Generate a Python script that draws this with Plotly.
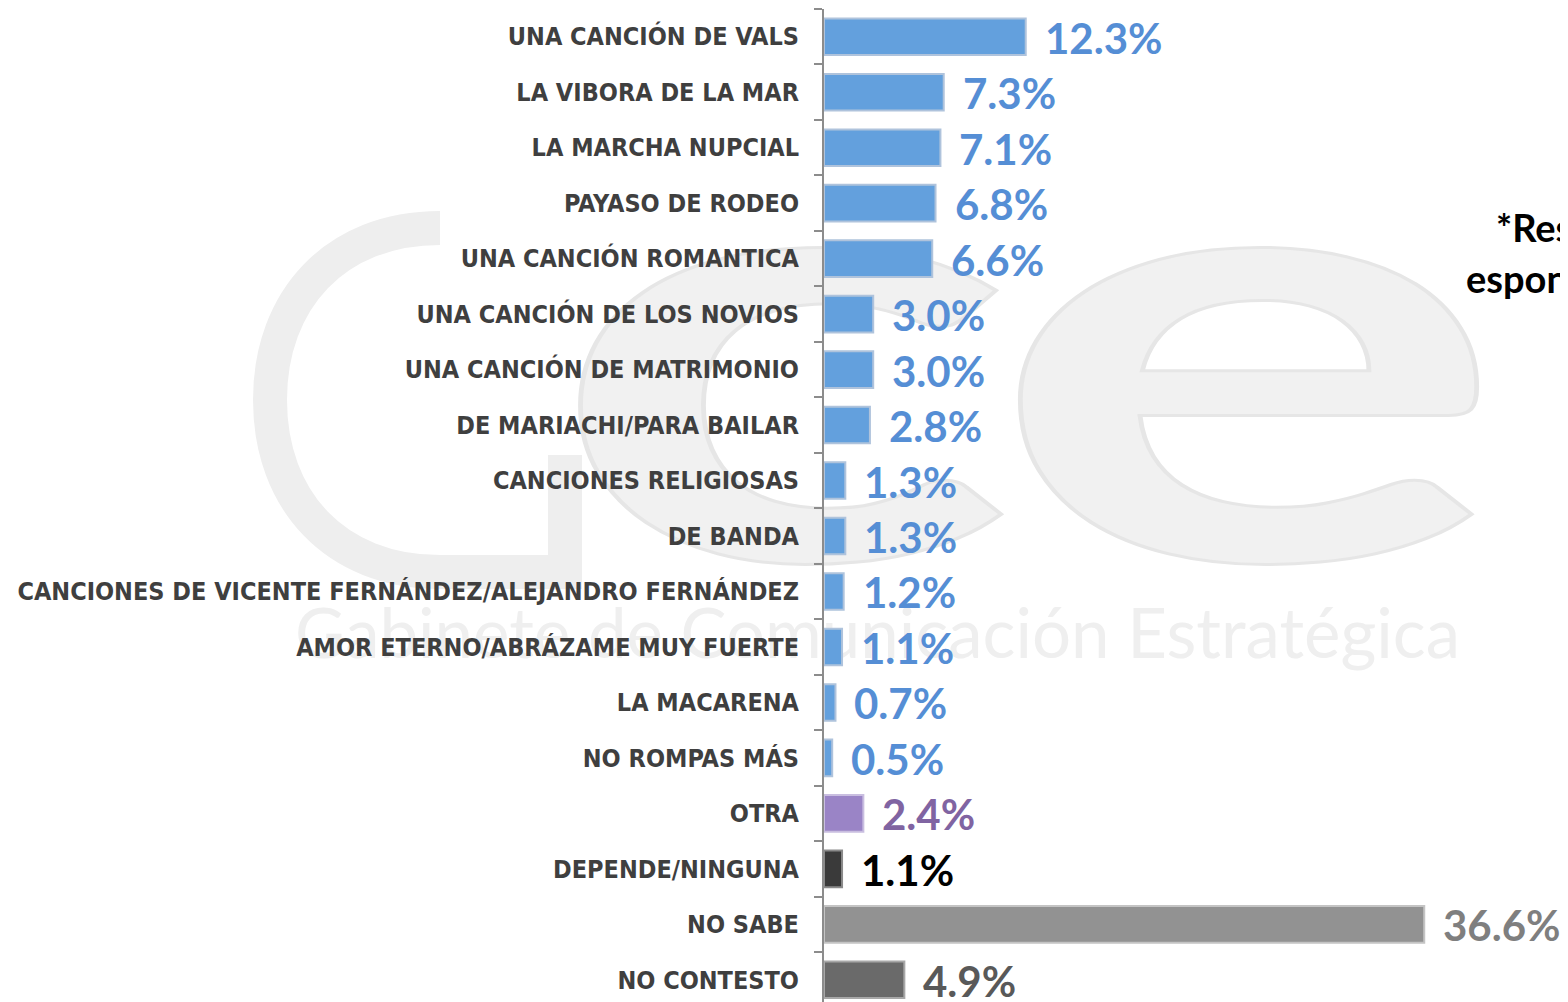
"""
Canciones para la boda - horizontal bar chart (Plotly).
"""
import base64
import plotly.graph_objects as go

# ---------------------------------------------------------------------------
# Data
# ---------------------------------------------------------------------------

categories = [
    'UNA CANCIÓN DE VALS',
    'LA VIBORA DE LA MAR',
    'LA MARCHA NUPCIAL',
    'PAYASO DE RODEO',
    'UNA CANCIÓN ROMANTICA',
    'UNA CANCIÓN DE LOS NOVIOS',
    'UNA CANCIÓN DE MATRIMONIO',
    'DE MARIACHI/PARA BAILAR',
    'CANCIONES RELIGIOSAS',
    'DE BANDA',
    'CANCIONES DE VICENTE FERNÁNDEZ/ALEJANDRO FERNÁNDEZ',
    'AMOR ETERNO/ABRÁZAME MUY FUERTE',
    'LA MACARENA',
    'NO ROMPAS MÁS',
    'OTRA',
    'DEPENDE/NINGUNA',
    'NO SABE',
    'NO CONTESTO',
]
values = [12.3, 7.3, 7.1, 6.8, 6.6, 3.0, 3.0, 2.8, 1.3, 1.3, 1.2, 1.1, 0.7, 0.5,
          2.4, 1.1, 36.6, 4.9]

# bar fill / outline / label colour per group
BLUE = ('#63A0DD', '#AFC3DC', '#558ED5')
PURPLE = ('#9A84C6', '#C9BEE0', '#8064A2')
BLACK = ('#3A3A3A', '#8A8A8A', '#000000')
GRAY = ('#929292', '#C4C4C4', '#7F7F7F')
DARK = ('#6A6A6A', '#A8A8A8', '#595959')
groups = [BLUE] * 14 + [PURPLE, BLACK, GRAY, DARK]

note_lines = ['*Respuesta', 'espontánea']

# the page body adds an 8px margin, so the figure is drawn 8px in from the window
OFF = 8


# ---------------------------------------------------------------------------
# Watermark (faint logo behind the bars), drawn in window pixels
# ---------------------------------------------------------------------------

def _watermark_svg(w, h):
    svg = (
        f'<svg xmlns="http://www.w3.org/2000/svg" width="{w}" height="{h}">'
        f'<g transform="translate({-OFF},{-OFF})">'
        '<path d="M440 228 C335 228 270 300 270 400 C270 500 335 572 440 572 '
        'L565 572 L565 455" fill="none" stroke="#eeeeee" stroke-width="34"/>'
        '<text transform="translate(548,560) scale(1.62,1)" '
        'font-family="Lato, sans-serif" font-size="600" font-weight="bold" '
        'fill="#f1f1f1" stroke="#e6e6e6" stroke-width="3" letter-spacing="-12">ce</text>'
        '<text x="295" y="658" font-family="Lato, sans-serif" font-size="70" '
        'fill="#efefef" textLength="1165" lengthAdjust="spacingAndGlyphs">'
        'Gabinete de Comunicación Estratégica</text>'
        '</g></svg>'
    )
    return 'data:image/svg+xml;base64,' + base64.b64encode(svg.encode('utf-8')).decode()


# ---------------------------------------------------------------------------
# Figure
# ---------------------------------------------------------------------------

W, H = 1568 - OFF, 1002 - OFF
M_L, M_R, M_T, M_B = 824 - OFF, 6, 9 - OFF, 0
PW, PH = W - M_L - M_R, H - M_T - M_B

pos = list(range(len(categories)))

fig = go.Figure()
fig.add_trace(go.Bar(
    x=values, y=pos, orientation='h', width=0.66,
    marker=dict(color=[g[0] for g in groups],
                line=dict(color=[g[1] for g in groups], width=2)),
    hoverinfo='x+y',
))

annotations = []
for v, p, g in zip(values, pos, groups):
    annotations.append(dict(
        x=v, y=p, xref='x', yref='y', text=f'{v:.1f}%',
        showarrow=False, xanchor='left', yanchor='middle', xshift=17, yshift=-1,
        font=dict(family='Lato, sans-serif', size=42, color=g[2], weight='bold'),
    ))

note_y = [227, 278]
note_x = [1494, 1464]
for txt, px, py in zip(note_lines, note_x, note_y):
    annotations.append(dict(
        x=(px - OFF - M_L) / PW, y=1 - (py - OFF - M_T) / PH,
        xref='paper', yref='paper',
        text=f'<b>{txt}</b>', showarrow=False, xanchor='left', yanchor='middle',
        font=dict(family='Lato, sans-serif', size=38, color='black'),
    ))

fig.update_layout(
    width=W, height=H,
    margin=dict(l=M_L, r=M_R, t=M_T, b=M_B, pad=0),
    plot_bgcolor='rgba(0,0,0,0)', paper_bgcolor='white',
    showlegend=False,
    xaxis=dict(range=[0, PW / 16.4], visible=False, fixedrange=True),
    yaxis=dict(
        range=[len(categories) - 0.6, -0.5], tickmode='array',
        tickvals=pos, ticktext=categories,
        showline=True, linecolor='#8C8C8C', linewidth=2,
        ticks='', showgrid=False, zeroline=False,
        ticklabelstandoff=18,
        tickfont=dict(family='DejaVu Sans Condensed, sans-serif', size=25,
                      color='#3F3F3F', weight='bold'),
        minor=dict(tickmode='array', tickvals=[p - 0.5 for p in pos] + [len(pos) - 0.5],
                   ticks='outside', ticklen=8, tickwidth=2, tickcolor='#8C8C8C',
                   showgrid=False),
    ),
    annotations=annotations,
    images=[dict(
        source=_watermark_svg(W, H), xref='paper', yref='paper',
        x=-M_L / PW, y=1 + M_T / PH, sizex=W / PW, sizey=H / PH,
        xanchor='left', yanchor='top', sizing='stretch', layer='below',
    )],
)

fig.write_html('out.html')
